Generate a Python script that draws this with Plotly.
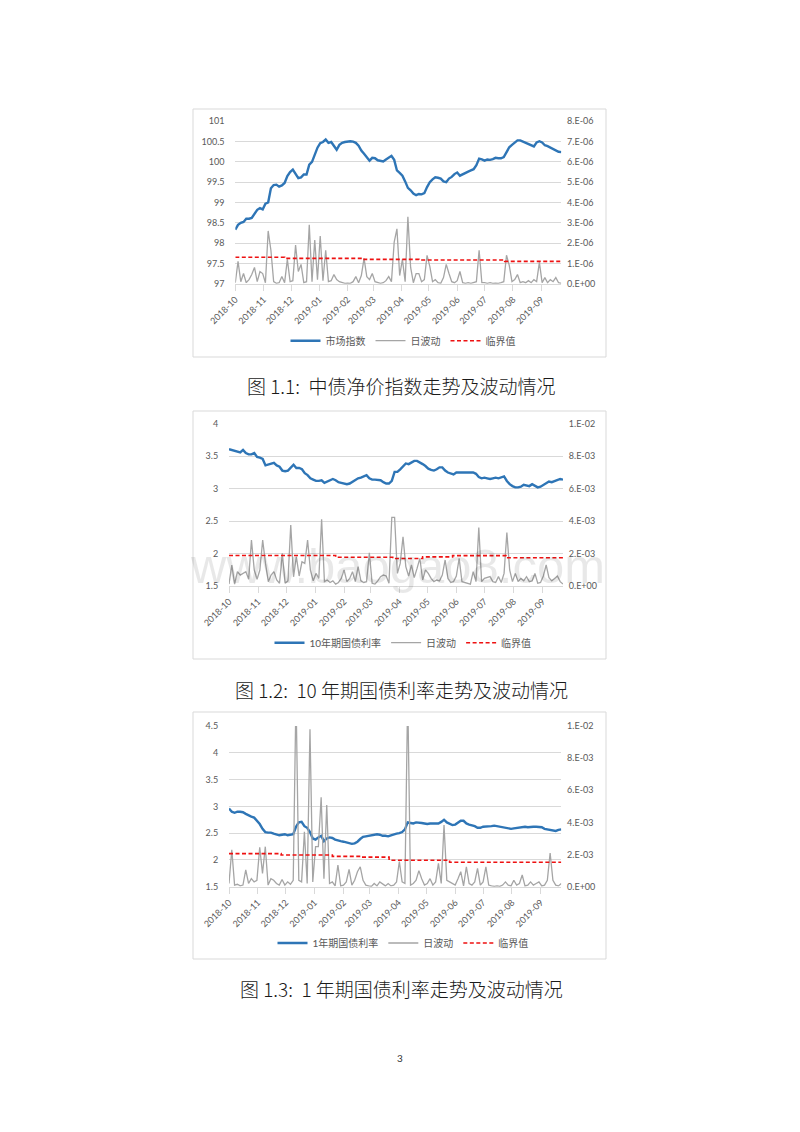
import plotly.graph_objects as go
import pandas as pd

# ---------------- data ----------------
START = "2018-10-01"
END = "2019-09-23"
STEP = "3D"

# Chart 1.1 : 中债净价指数 (left axis) and 日波动 (right axis, unit 1E-06)
c1_index = [
    98.33, 98.45, 98.50, 98.52, 98.60, 98.60, 98.62, 98.72, 98.82, 98.86,
    98.83, 98.97, 99.00, 99.35, 99.43, 99.44, 99.39, 99.42, 99.48, 99.65,
    99.75, 99.81, 99.70, 99.60, 99.62, 99.69, 99.69, 99.93, 100.00, 100.20,
    100.35, 100.46, 100.49, 100.55, 100.47, 100.49, 100.40, 100.30, 100.42, 100.47,
    100.49, 100.50, 100.51, 100.50, 100.47, 100.40, 100.28, 100.20, 100.12, 100.03,
    100.10, 100.09, 100.04, 100.03, 100.01, 100.06, 100.10, 100.15, 100.05, 99.79,
    99.73, 99.66, 99.52, 99.36, 99.30, 99.22, 99.18, 99.21, 99.20, 99.23,
    99.38, 99.50, 99.57, 99.62, 99.61, 99.59, 99.52, 99.50, 99.59, 99.63,
    99.70, 99.74, 99.66, 99.70, 99.74, 99.76, 99.79, 99.82, 99.92, 100.08,
    100.06, 100.03, 100.06, 100.05, 100.07, 100.10, 100.09, 100.09, 100.12, 100.25,
    100.36, 100.42, 100.48, 100.53, 100.53, 100.50, 100.47, 100.45, 100.42, 100.38,
    100.48, 100.51, 100.48, 100.41, 100.39, 100.35, 100.33, 100.29, 100.25, 100.24,
]
c1_vol = [
    0.05, 1.1, 0.1, 0.5, 0.05, 0.2, 0.45, 0.8, 0.1, 0.6,
    0.5, 0.05, 2.6, 1.65, 0.1, 0.02, 0.05, 0.35, 0.05, 1.2,
    0.1, 0.15, 1.9, 0.6, 0.95, 0.05, 0.1, 2.9, 0.1, 2.15,
    0.2, 2.35, 0.15, 1.65, 0.1, 0.15, 0.45, 0.2, 0.1, 0.05,
    0.02, 0.03, 0.02, 0.1, 0.35, 0.05, 0.4, 1.25, 0.35, 0.2,
    0.5, 0.1, 0.05, 0.02, 0.05, 0.15, 0.35, 0.1, 2.05, 2.7,
    0.4, 1.2, 0.1, 3.3, 0.8, 0.05, 0.5, 0.5, 0.1, 0.2,
    1.4, 0.85, 0.1, 0.2, 0.05, 0.02, 0.3, 0.95, 0.5, 0.1,
    0.05, 0.15, 0.6, 0.05, 0.02, 0.05, 0.02, 0.05, 0.1, 1.65,
    0.05, 0.05, 0.02, 0.05, 0.02, 0.03, 0.02, 0.05, 0.1, 1.4,
    0.9, 0.1, 0.2, 0.45, 0.05, 0.1, 0.05, 0.15, 0.05, 0.2,
    0.1, 1.05, 0.05, 0.3, 0.05, 0.2, 0.1, 0.3, 0.05, 0.02,
]
c1_thr_dates = ["2018-10-01", "2018-11-24", "2019-02-18", "2019-04-20", "2019-07-23", "2019-09-23"]
c1_thr_vals = [1.30, 1.25, 1.20, 1.17, 1.10, 1.10]
c1_scale = 1e-6
c1_right_ticks = ["0.E+00", "1.E-06", "2.E-06", "3.E-06", "4.E-06", "5.E-06", "6.E-06", "7.E-06", "8.E-06"]

# Chart 1.2 : 10年期国债利率 (left) and 日波动 (right, unit 1E-03)
c2_rate = [
    3.61, 3.60, 3.59, 3.58, 3.56, 3.60, 3.55, 3.53, 3.53, 3.55,
    3.49, 3.48, 3.46, 3.36, 3.37, 3.39, 3.40, 3.36, 3.34, 3.28,
    3.27, 3.28, 3.33, 3.37, 3.32, 3.32, 3.30, 3.24, 3.21, 3.16,
    3.14, 3.12, 3.12, 3.13, 3.09, 3.11, 3.12, 3.15, 3.13, 3.10,
    3.09, 3.08, 3.07, 3.08, 3.11, 3.14, 3.16, 3.17, 3.19, 3.21,
    3.16, 3.14, 3.14, 3.14, 3.13, 3.10, 3.08, 3.08, 3.12, 3.26,
    3.26, 3.30, 3.34, 3.39, 3.38, 3.41, 3.43, 3.43, 3.41, 3.38,
    3.35, 3.31, 3.29, 3.28, 3.30, 3.33, 3.33, 3.28, 3.25, 3.24,
    3.22, 3.25, 3.25, 3.24, 3.25, 3.25, 3.24, 3.25, 3.23, 3.18,
    3.16, 3.17, 3.16, 3.15, 3.16, 3.17, 3.16, 3.17, 3.19, 3.12,
    3.07, 3.04, 3.02, 3.02, 3.03, 3.06, 3.05, 3.04, 3.07, 3.05,
    3.02, 3.03, 3.06, 3.09, 3.11, 3.10, 3.12, 3.13, 3.15, 3.14,
]
c2_vol = [
    0.1, 1.28, 0.1, 0.87, 0.66, 0.76, 0.87, 0.4, 2.82, 0.97,
    0.4, 0.97, 2.82, 1.38, 0.25, 0.66, 0.87, 0.35, 0.15, 2.0,
    0.15, 0.3, 3.75, 0.55, 1.8, 0.6, 1.48, 1.38, 2.82, 0.97,
    0.3, 0.76, 0.45, 4.1, 0.25, 0.35, 0.2, 0.3, 0.1, 0.2,
    0.45, 0.97, 0.25, 0.45, 0.87, 0.25, 1.18, 0.3, 0.2, 0.25,
    2.04, 0.15, 0.1, 0.3, 0.56, 0.66, 0.6, 0.15, 4.23, 4.23,
    0.76, 1.38, 3.03, 1.18, 0.6, 1.28, 0.5, 1.07, 1.69, 0.35,
    0.97, 0.76, 0.45, 0.25, 0.35, 0.3, 0.66, 1.59, 0.45, 0.2,
    0.25, 0.6, 1.69, 0.25, 0.2, 0.15, 0.1, 0.87, 0.25, 3.6,
    0.25, 0.45, 0.5, 0.56, 0.25, 0.2, 0.56, 0.2, 0.76, 3.28,
    0.97, 0.25, 0.76, 0.25, 0.45, 0.3, 0.56, 0.25, 0.3, 0.76,
    0.15, 0.2, 0.6, 1.28, 0.5, 0.3, 0.45, 0.6, 0.25, 0.1,
]
c2_thr_dates = ["2018-10-01", "2019-01-23", "2019-03-25", "2019-04-26", "2019-05-28", "2019-07-24", "2019-09-23"]
c2_thr_vals = [1.87, 1.76, 1.68, 1.78, 1.86, 1.73, 1.73]
c2_scale = 1e-3
c2_right_ticks = ["0.E+00", "2.E-03", "4.E-03", "6.E-03", "8.E-03", "1.E-02"]

# Chart 1.3 : 1年期国债利率 (left) and 日波动 (right, unit 1E-03)
c3_rate = [
    2.96, 2.90, 2.88, 2.90, 2.90, 2.89, 2.86, 2.83, 2.81, 2.79,
    2.73, 2.67, 2.58, 2.52, 2.51, 2.51, 2.49, 2.48, 2.46, 2.47,
    2.48, 2.46, 2.47, 2.48, 2.62, 2.70, 2.71, 2.63, 2.60, 2.52,
    2.40, 2.38, 2.42, 2.45, 2.35, 2.40, 2.42, 2.41, 2.38, 2.36,
    2.35, 2.34, 2.33, 2.31, 2.30, 2.31, 2.34, 2.39, 2.43, 2.44,
    2.45, 2.46, 2.46, 2.48, 2.47, 2.45, 2.45, 2.44, 2.46, 2.48,
    2.49, 2.50, 2.52, 2.57, 2.70, 2.69, 2.68, 2.70, 2.70, 2.69,
    2.68, 2.67, 2.68, 2.68, 2.67, 2.68, 2.71, 2.75, 2.70, 2.67,
    2.65, 2.66, 2.70, 2.73, 2.73, 2.68, 2.66, 2.65, 2.63, 2.60,
    2.60, 2.62, 2.62, 2.63, 2.63, 2.64, 2.63, 2.62, 2.61, 2.59,
    2.58, 2.58, 2.59, 2.60, 2.61, 2.62, 2.62, 2.61, 2.62, 2.62,
    2.62, 2.61, 2.61, 2.58, 2.57, 2.56, 2.55, 2.54, 2.56, 2.57,
]
c3_vol = [
    0.2, 2.3, 0.1, 0.15, 0.05, 0.1, 1.04, 0.2, 0.5, 0.3,
    0.4, 2.45, 0.83, 2.49, 0.1, 0.5, 0.4, 0.2, 0.1, 0.45,
    0.1, 0.3, 0.15, 0.4, 12.0, 0.4, 0.3, 3.42, 0.2, 9.8,
    0.3, 2.49, 2.49, 5.56, 0.5, 5.08, 0.2, 0.3, 0.05, 1.35,
    0.05, 0.1, 0.3, 1.08, 0.1, 0.4, 0.93, 1.24, 0.4, 0.1,
    0.05, 0.02, 0.2, 0.05, 0.3, 0.15, 0.05, 0.2, 0.05, 0.1,
    0.3, 1.56, 0.3, 0.2, 12.0, 0.1, 0.2, 0.4, 1.0, 0.5,
    0.1, 0.2, 0.5, 0.1, 0.3, 1.45, 0.2, 3.84, 0.4, 0.3,
    0.2, 0.1, 0.5, 0.93, 0.05, 1.24, 0.2, 0.1, 0.3, 1.14,
    0.1, 0.3, 1.24, 0.1, 0.05, 0.02, 0.05, 0.02, 0.1, 0.3,
    0.1, 0.05, 0.4, 0.1, 0.2, 0.73, 0.05, 0.1, 0.3, 0.1,
    0.2, 0.3, 0.05, 0.1, 0.4, 2.1, 0.4, 0.1, 0.05, 0.2,
]
c3_thr_dates = ["2018-10-01", "2018-11-26", "2019-01-20", "2019-02-20", "2019-03-22", "2019-05-26", "2019-09-23"]
c3_thr_vals = [2.06, 1.97, 1.89, 1.84, 1.65, 1.52, 1.52]
c3_scale = 1e-3
c3_right_ticks = c2_right_ticks

names_main = ["市场指数", "10年期国债利率", "1年期国债利率"]
name_vol = "日波动"
name_thr = "临界值"
captions = [
    "图 1.1:\u00a0\u00a0中债净价指数走势及波动情况",
    "图 1.2:\u00a0\u00a010 年期国债利率走势及波动情况",
    "图 1.3:\u00a0\u00a01 年期国债利率走势及波动情况",
]
page_number = "3"
watermark = "www.baogao8.com"

# ---------------- layout helpers ----------------
W, H = 800, 1132


def fx(px):
    return px / W


def fy(py):
    return 1 - py / H


FONT = "Lato, 'Noto Sans CJK SC', sans-serif"
CJK = "'Noto Sans CJK SC', sans-serif"
TXT = "#595959"
GRID = "#d9d9d9"
BLUE = "#2E75B6"
GRAY = "#A5A5A5"
RED = "#EE1111"

charts = [
    dict(main=c1_index, vol=c1_vol, scale=c1_scale, thr_d=c1_thr_dates, thr_v=c1_thr_vals,
         left_range=[97, 101], right_max=8e-6, right_step=1e-6, right_ticks=c1_right_ticks,
         plot=(235.3, 561.3, 121.3, 283.7), frame=(193, 606, 109, 357),
         legend_y=340.7, legend_x=403, cap_y=385.5),
    dict(main=c2_rate, vol=c2_vol, scale=c2_scale, thr_d=c2_thr_dates, thr_v=c2_thr_vals,
         left_range=[1.5, 4], right_max=1e-2, right_step=2e-3, right_ticks=c2_right_ticks,
         plot=(229, 563, 424, 585.7), frame=(193, 606, 411, 659),
         legend_y=642.7, legend_x=403, cap_y=689),
    dict(main=c3_rate, vol=c3_vol, scale=c3_scale, thr_d=c3_thr_dates, thr_v=c3_thr_vals,
         left_range=[1.5, 4.5], right_max=1e-2, right_step=2e-3, right_ticks=c3_right_ticks,
         plot=(229, 561.3, 726, 886.7), frame=(193, 606, 712, 959),
         legend_y=943, legend_x=403, cap_y=988),
]

tick_font = dict(family=FONT, size=9, color=TXT)

fig = go.Figure()
layout = {}
shapes = []
annotations = []

for k, c in enumerate(charts):
    n = k + 1
    xname = "x" if n == 1 else f"x{n}"
    yl = 2 * n - 1
    yr = 2 * n
    yl_name = "y" if yl == 1 else f"y{yl}"
    yr_name = f"y{yr}"
    leg = "legend" if n == 1 else f"legend{n}"

    dates = pd.date_range(START, periods=len(c["main"]), freq=STEP)
    vdates = pd.date_range(START, periods=len(c["vol"]), freq=STEP)

    fig.add_trace(go.Scatter(
        x=dates, y=c["main"], mode="lines", name=names_main[k],
        line=dict(color=BLUE, width=2.4), xaxis=xname, yaxis=yl_name, legend=leg,
        hoverinfo="skip"))
    fig.add_trace(go.Scatter(
        x=vdates, y=[v * c["scale"] for v in c["vol"]], mode="lines", name=name_vol,
        line=dict(color=GRAY, width=1.3), xaxis=xname, yaxis=yr_name, legend=leg,
        hoverinfo="skip"))
    fig.add_trace(go.Scatter(
        x=pd.to_datetime(c["thr_d"]), y=[v * c["scale"] for v in c["thr_v"]], mode="lines",
        name=name_thr, line=dict(color=RED, width=1.6, dash="4px,2.5px", shape="hv"),
        xaxis=xname, yaxis=yr_name, legend=leg, hoverinfo="skip"))

    x0, x1, ytop, ybot = c["plot"]
    xkey = "xaxis" if n == 1 else f"xaxis{n}"
    ylkey = "yaxis" if yl == 1 else f"yaxis{yl}"
    yrkey = f"yaxis{yr}"

    layout[xkey] = dict(
        domain=[fx(x0), fx(x1)], anchor=yl_name, type="date", range=[START, END],
        dtick="M1", tick0="2018-10-01", tickformat="%Y-%m", tickangle=-45,
        showgrid=False, showline=True, linecolor=GRID, linewidth=1, automargin=False,
        ticks="outside", ticklen=6, tickcolor=GRID, tickfont=tick_font, zeroline=False)
    layout[ylkey] = dict(
        domain=[fy(ybot), fy(ytop)], anchor=xname, range=c["left_range"], dtick=0.5,
        tick0=c["left_range"][0], showgrid=True, gridcolor=GRID, gridwidth=1,
        zeroline=False, showline=False, ticks="outside", ticklen=8, automargin=False,
        tickcolor="rgba(0,0,0,0)", tickfont=tick_font)
    nt = len(c["right_ticks"])
    layout[yrkey] = dict(
        overlaying=yl_name, anchor=xname, side="right", range=[0, c["right_max"]],
        tickvals=[i * c["right_step"] for i in range(nt)], ticktext=c["right_ticks"],
        showgrid=False, zeroline=False, showline=False, ticks="outside", ticklen=3,
        automargin=False, tickcolor="rgba(0,0,0,0)", tickfont=tick_font)
    layout[leg] = dict(
        orientation="h", x=fx(c["legend_x"]), xanchor="center", y=fy(c["legend_y"]),
        yanchor="middle", font=dict(family=FONT, size=10, color=TXT),
        bgcolor="rgba(0,0,0,0)", itemwidth=30, tracegroupgap=0)

    fx0, fx1, fy0, fy1 = c["frame"]
    shapes.append(dict(type="rect", xref="paper", yref="paper",
                       x0=fx(fx0), x1=fx(fx1), y0=fy(fy1), y1=fy(fy0),
                       line=dict(color=GRID, width=1), fillcolor="rgba(0,0,0,0)", layer="below"))
    annotations.append(dict(text=captions[k], xref="paper", yref="paper", x=fx(401), y=fy(c["cap_y"]),
                            xanchor="center", yanchor="middle", showarrow=False,
                            font=dict(family=CJK, size=19, color="#1a1a1a", weight=300)))

annotations.append(dict(text=page_number, xref="paper", yref="paper", x=fx(400), y=fy(1058),
                        xanchor="center", yanchor="middle", showarrow=False,
                        font=dict(family=FONT, size=10, color="#333333")))
annotations.append(dict(text=watermark, xref="paper", yref="paper", x=fx(607), y=fy(566),
                        xanchor="right", yanchor="middle", showarrow=False,
                        font=dict(family="'Liberation Sans', sans-serif",
                                  size=49, color="rgba(0,0,0,0.09)")))

fig.update_layout(**layout)
fig.update_layout(
    width=W, height=H, margin=dict(l=0, r=0, t=0, b=0, pad=0, autoexpand=False),
    paper_bgcolor="white", plot_bgcolor="white", showlegend=True,
    shapes=shapes, annotations=annotations, hovermode=False)

fig.write_html("out.html", config={"displayModeBar": False},
               post_script="document.body.style.margin='0';document.body.style.overflow='hidden';")
